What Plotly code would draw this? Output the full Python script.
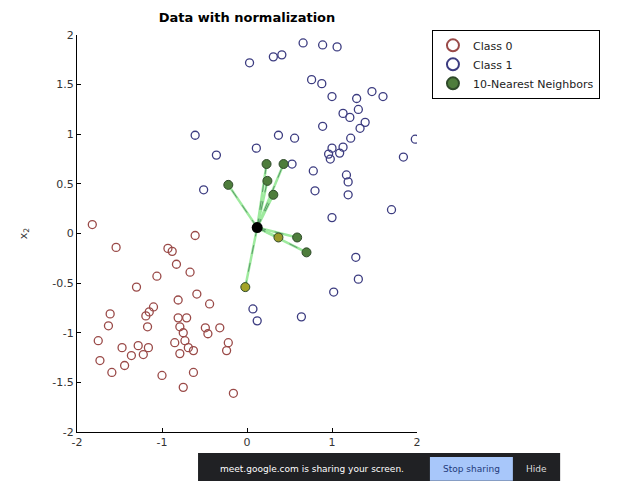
import plotly.graph_objects as go

# ---- data ----
class0_x = [-1.82, -0.61, -1.54, -0.93, -0.88, -0.83, -0.67, -1.06, -1.30, -0.59,
            -0.81, -0.44, -1.10, -1.15, -1.19, -1.61, -1.63, -1.17, -0.81, -0.71,
            -0.79, -0.75, -0.49, -0.46, -0.32, -1.75, -0.85, -0.73, -0.69, -0.22,
            -0.24, -1.47, -1.28, -1.16, -1.36, -1.22, -0.79, -0.63, -1.73, -1.59,
            -1.44, -1.00, -0.63, -0.75, -0.16]
class0_y = [0.09, -0.02, -0.14, -0.15, -0.18, -0.31, -0.39, -0.43, -0.54, -0.61,
            -0.67, -0.71, -0.74, -0.79, -0.83, -0.81, -0.93, -0.94, -0.85, -0.85,
            -0.94, -1.00, -0.95, -1.01, -0.95, -1.08, -1.10, -1.08, -1.15, -1.10,
            -1.18, -1.15, -1.13, -1.15, -1.23, -1.22, -1.21, -1.18, -1.28, -1.40,
            -1.33, -1.43, -1.40, -1.55, -1.61]

class1_x = [0.66, 0.89, 1.06, 0.03, 0.31, 0.41, 0.76, 0.88, 1.00, 1.29,
            1.47, 1.60, 1.13, 1.21, 1.31, 1.39, 1.33, 0.89, 1.22, 1.13,
            1.00, 0.96, -0.61, 0.37, 0.56, 0.11, -0.36, 1.98, 1.84, 0.53,
            1.09, 0.98, 0.78, 1.17, 1.19, 0.80, 1.19, 1.70, 1.00, 1.28,
            1.31, 1.02, 0.64, -0.51, 0.07, 0.12]
class1_y = [1.92, 1.90, 1.88, 1.72, 1.78, 1.80, 1.55, 1.51, 1.38, 1.36,
            1.43, 1.38, 1.21, 1.17, 1.25, 1.12, 1.06, 1.08, 0.96, 0.87,
            0.86, 0.80, 0.99, 0.99, 0.96, 0.86, 0.79, 0.95, 0.77, 0.70,
            0.81, 0.75, 0.63, 0.59, 0.52, 0.43, 0.39, 0.24, 0.16, -0.24,
            -0.46, -0.59, -0.84, 0.44, -0.76, -0.88]

nn_x = [0.23, 0.43, -0.22, 0.24, 0.31, 0.37, 0.59, 0.70, -0.02]
nn_y = [0.70, 0.70, 0.49, 0.53, 0.39, -0.04, -0.04, -0.19, -0.54]

query_x = [0.12]
query_y = [0.06]

x_ticks = [-2, -1, 0, 1, 2]
y_ticks = [-2, -1.5, -1, -0.5, 0, 0.5, 1, 1.5, 2]

title_text = "Data with normalization"
legend_names = ["Class 0", "Class 1", "10-Nearest Neighbors"]
ylabel_text = "x<sub>2</sub>"
bar_text = "meet.google.com is sharing your screen."
button_text = "Stop sharing"
hide_text = "Hide"

# ---- styles ----
col0 = "#9a4a48"
col1 = "#3c3c80"
nn_face = ["#4e7d3c", "#4e7d3c", "#4e7d3c", "#4e7d3c", "#4e7d3c",
           "#9a9a2a", "#4e7d3c", "#4e7d3c", "#a3a326"]
font_fam = "DejaVu Sans, sans-serif"

fig = go.Figure()

# neighbor lines (built from query + neighbor data)
lx, ly = [], []
for nx, ny in zip(nn_x, nn_y):
    lx += [query_x[0], nx, None]
    ly += [query_y[0], ny, None]
fig.add_trace(go.Scatter(x=lx, y=ly, mode="lines", showlegend=False,
                         line=dict(color="#9eea9e", width=2.5), hoverinfo="skip"))
fig.add_trace(go.Scatter(x=lx, y=ly, mode="lines", showlegend=False,
                         line=dict(color="#5a9a6a", width=1, dash="dash"), hoverinfo="skip"))

fig.add_trace(go.Scatter(x=class0_x, y=class0_y, mode="markers", name=legend_names[0],
                         marker=dict(symbol="circle-open", size=8, color=col0,
                                     line=dict(width=1.3, color=col0))))
fig.add_trace(go.Scatter(x=class1_x, y=class1_y, mode="markers", name=legend_names[1],
                         marker=dict(symbol="circle-open", size=8, color=col1,
                                     line=dict(width=1.3, color=col1))))
fig.add_trace(go.Scatter(x=nn_x, y=nn_y, mode="markers", name=legend_names[2],
                         marker=dict(symbol="circle", size=9, color=nn_face,
                                     line=dict(width=1, color="#2f4a2a"))))
fig.add_trace(go.Scatter(x=query_x, y=query_y, mode="markers", showlegend=False,
                         marker=dict(symbol="circle", size=11, color="black")))

axis_common = dict(showline=True, linecolor="black", linewidth=1, mirror=False,
                   ticks="inside", ticklen=4, tickcolor="black", showgrid=False,
                   zeroline=False, tickfont=dict(size=11, color="#333", family=font_fam))

fig.update_xaxes(range=[-2, 2], tickvals=x_ticks, ticktext=[str(v) for v in x_ticks],
                 **axis_common)
fig.update_yaxes(range=[-2, 2], tickvals=y_ticks, ticktext=[f"{v:g}" for v in y_ticks],
                 title=dict(text=ylabel_text, font=dict(size=11, color="#333", family=font_fam),
                            standoff=22),
                 **axis_common)

# screen-sharing bar overlay (as in the reference screenshot)
shapes = [
    dict(type="rect", xref="paper", yref="paper", x0=0.356, x1=1.421, y0=-0.131, y1=-0.053,
         fillcolor="#202124", line=dict(width=0), layer="above"),
    dict(type="rect", xref="paper", yref="paper", x0=1.038, x1=1.282, y0=-0.123, y1=-0.063,
         fillcolor="#a8c7fa", line=dict(width=0), layer="above"),
]
annotations = [
    dict(text=bar_text, xref="paper", yref="paper", x=0.69, y=-0.092, xanchor="center",
         yanchor="middle", showarrow=False, font=dict(size=9, color="white", family=font_fam)),
    dict(text=button_text, xref="paper", yref="paper", x=1.16, y=-0.092, xanchor="center",
         yanchor="middle", showarrow=False, font=dict(size=9, color="#1f3a7a", family=font_fam)),
    dict(text=hide_text, xref="paper", yref="paper", x=1.352, y=-0.092, xanchor="center",
         yanchor="middle", showarrow=False, font=dict(size=9, color="#dddddd", family=font_fam)),
]

# page has an 8px body margin, so the figure is drawn 8px in from the window corner
fig.update_layout(
    width=604, height=473,
    margin=dict(l=69, r=195, t=27, b=49),
    paper_bgcolor="white", plot_bgcolor="white",
    title=dict(text="<b>" + title_text + "</b>", x=239 / 604, xanchor="center",
               y=1 - 9 / 473, yanchor="middle",
               font=dict(size=13, color="black", family=font_fam)),
    legend=dict(x=1.044, y=1.013, xanchor="left", yanchor="top",
                bgcolor="white", bordercolor="black", borderwidth=1,
                font=dict(size=11, color="#222", family=font_fam),
                tracegroupgap=0, itemsizing="constant"),
    shapes=shapes, annotations=annotations,
    showlegend=True,
)

fig.write_html("out.html")
